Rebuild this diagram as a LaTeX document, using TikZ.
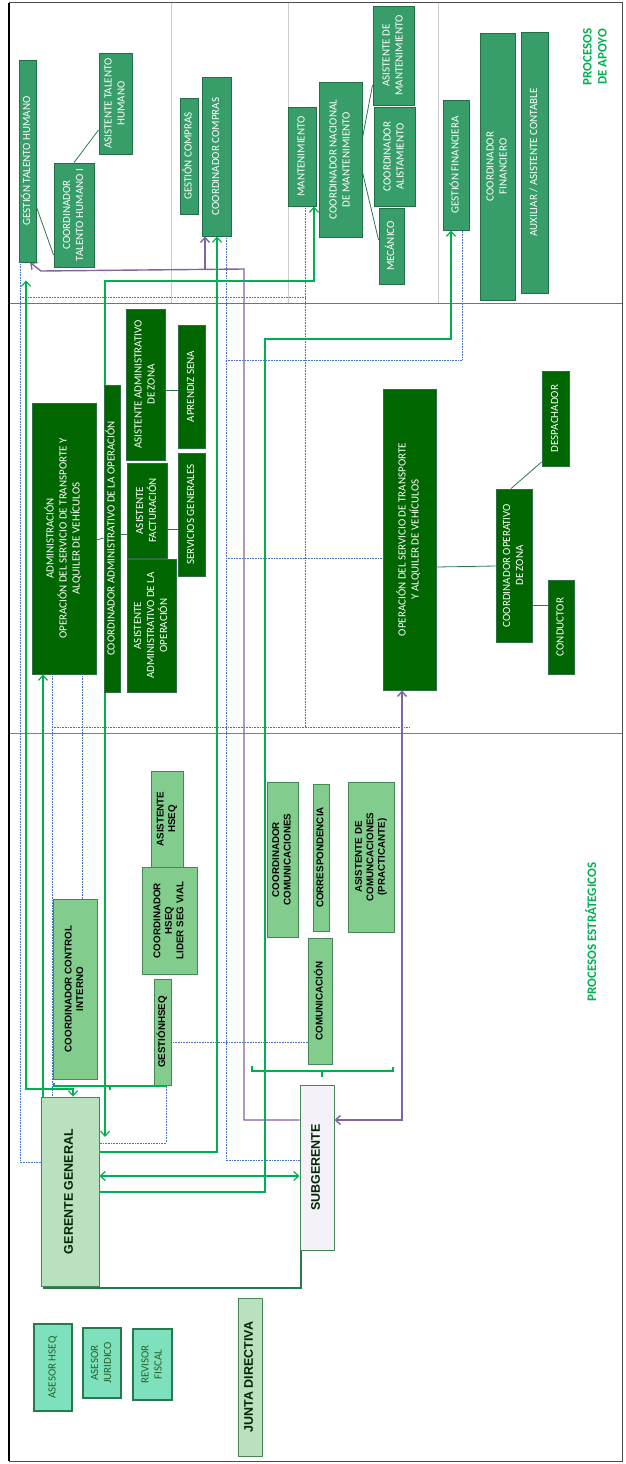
\documentclass[tikz,border=0pt]{standalone}
\usepackage{fontspec}
\setmainfont{Carlito}
\newfontfamily\arialfont{Liberation Sans}
\usetikzlibrary{arrows.meta,calc}
\pgfdeclarelayer{background}
\pgfsetlayers{background,main}

\definecolor{apoyofill}{RGB}{55,158,105}
\definecolor{apoyoline}{RGB}{35,110,70}
\definecolor{opfill}{RGB}{0,102,0}
\definecolor{opline}{RGB}{45,110,70}
\definecolor{estfill}{RGB}{130,205,142}
\definecolor{estline}{RGB}{70,135,85}
\definecolor{gerfill}{RGB}{185,225,192}
\definecolor{subfill}{RGB}{244,242,248}
\definecolor{asefill}{RGB}{125,225,190}
\definecolor{asetext}{RGB}{40,95,35}
\definecolor{verde}{RGB}{0,176,80}
\definecolor{morado}{RGB}{128,100,162}
\definecolor{azul}{RGB}{68,114,196}
\definecolor{rama}{RGB}{40,120,80}
\definecolor{oliva}{RGB}{118,146,60}

\newcommand{\vtx}[1]{\rotatebox{90}{\begin{tabular}{@{}c@{}}#1\end{tabular}}}

\tikzset{
  caja/.style={draw, line width=0.9pt, inner sep=0pt},
  apoyo/.style={caja, fill=apoyofill, draw=apoyoline, text=white, font=\fontsize{11}{13}\selectfont},
  mision/.style={caja, fill=opfill, draw=opline, text=white, font=\fontsize{11}{13}\selectfont},
  estrat/.style={caja, fill=estfill, draw=estline, text=black, font=\arialfont\bfseries\fontsize{9.8}{11.5}\selectfont},
  gerencia/.style={caja, fill=gerfill, draw=estline, text=black!85!green, font=\arialfont\bfseries\fontsize{12.5}{14}\selectfont},
  asesor/.style={caja, fill=asefill, draw=rama, line width=1.2pt, text=asetext, font=\fontsize{11}{13}\selectfont},
  titulo/.style={text=verde, font=\bfseries\fontsize{13}{15}\selectfont},
  gline/.style={draw=verde, line width=1.2pt},
  pline/.style={draw=morado, line width=1.4pt},
  dline/.style={draw=azul, line width=0.6pt, densely dotted},
  rline/.style={draw=rama, line width=0.8pt},
  >={Straight Barb[length=5pt,width=9pt]}
}

\begin{document}
\begin{tikzpicture}[x=1pt,y=-1pt] % organigrama
  \useasboundingbox (0,0) rectangle (626,1464);
  % procesos de apoyo
  \node[apoyo, minimum width=17, minimum height=202] (gth) at (27.5,161) {\vtx{GESTIÓN TALENTO HUMANO}};
  \node[apoyo, minimum width=40, minimum height=104] (cth) at (74,215) {\vtx{COORDINADOR\\TALENTO HUMANO I}};
  \node[apoyo, minimum width=33, minimum height=101] (ath) at (115.5,103.5) {\vtx{ASISTENTE TALENTO\\HUMANO}};
  \node[apoyo, minimum width=18, minimum height=116] (gcomp) at (189,156) {\vtx{GESTIÓN COMPRAS}};
  \node[apoyo, minimum width=29, minimum height=159] (ccomp) at (216.5,156.5) {\vtx{COORDINADOR COMPRAS}};
  \node[apoyo, minimum width=28, minimum height=99] (mant) at (302,156.5) {\vtx{MANTENIMIENTO}};
  \node[apoyo, minimum width=43, minimum height=155] (cnm) at (340.5,159.5) {\vtx{COORDINADOR NACIONAL\\DE MANTENIMIENTO}};
  \node[apoyo, minimum width=41, minimum height=99] (amant) at (393.5,55.5) {\vtx{ASISTENTE DE\\MANTENIMIENTO}};
  \node[apoyo, minimum width=41, minimum height=99] (calist) at (394.5,156.5) {\vtx{COORDINADOR\\ALISTAMIENTO}};
  \node[apoyo, minimum width=25, minimum height=76] (mec) at (391.5,246) {\vtx{MECÁNICO}};
  \node[apoyo, minimum width=26, minimum height=130] (gfin) at (456,165) {\vtx{GESTIÓN FINANCIERA}};
  \node[apoyo, minimum width=35, minimum height=267] (cfin) at (497.5,166.5) {\vtx{COORDINADOR\\FINANCIERO}};
  \node[apoyo, minimum width=27, minimum height=261] (aux) at (534.5,162.5) {\vtx{AUXILIAR / ASISTENTE CONTABLE}};
  \node[titulo] (tapoyo) at (596,57) {\vtx{PROCESOS\\DE APOYO}};
  % procesos misionales
  \node[mision, minimum width=64, minimum height=271] (adm) at (64,538.5) {\vtx{ADMINISTRACIÓN\\OPERACIÓN DEL SERVICIO DE TRANSPORTE Y\\ALQUILER DE VEHÍCULOS}};
  \node[mision, minimum width=16, minimum height=307] (cadm) at (112,538.5) {\vtx{COORDINADOR ADMINISTRATIVO DE LA OPERACIÓN}};
  \node[mision, minimum width=39, minimum height=151] (azona) at (145.5,384.5) {\vtx{ASISTENTE ADMINISTRATIVO\\DE ZONA}};
  \node[mision, minimum width=27, minimum height=123] (asena) at (191.5,386.5) {\vtx{APRENDIZ SENA}};
  \node[mision, minimum width=40, minimum height=95] (afact) at (147,510.5) {\vtx{ASISTENTE\\FACTURACIÓN}};
  \node[mision, minimum width=27, minimum height=123] (sgen) at (191.5,514.5) {\vtx{SERVICIOS GENERALES}};
  \node[mision, minimum width=49, minimum height=133] (aadm) at (151.5,625.5) {\vtx{ASISTENTE\\ADMINISTRATIVO DE LA\\OPERACIÓN}};
  \node[mision, minimum width=53, minimum height=301] (oper) at (409.5,539.5) {\vtx{OPERACIÓN DEL SERVICIO DE TRANSPORTE\\Y ALQUILER DE VEHÍCULOS}};
  \node[mision, minimum width=36, minimum height=153] (cop) at (514,565.5) {\vtx{COORDINADOR OPERATIVO\\DE ZONA}};
  \node[mision, minimum width=27, minimum height=95] (desp) at (555.5,418.5) {\vtx{DESPACHADOR}};
  \node[mision, minimum width=26, minimum height=94] (cond) at (561,627) {\vtx{CONDUCTOR}};
  % procesos estrategicos
  \node[estrat, minimum width=32, minimum height=96] (ahseq) at (167,819) {\vtx{ASISTENTE\\HSEQ}};
  \node[estrat, minimum width=55, minimum height=107] (chseq) at (169.5,920.5) {\vtx{COORDINADOR\\HSEQ\\LIDER SEG VIAL}};
  \node[estrat, minimum width=17, minimum height=106] (ghseq) at (162.5,1032) {\vtx{GESTIÓNHSEQ}};
  \node[estrat, minimum width=44, minimum height=180] (cci) at (75,989) {\vtx{COORDINADOR CONTROL\\INTERNO}};
  \node[estrat, minimum width=31, minimum height=155] (ccom) at (282.5,859.5) {\vtx{COORDINADOR\\COMUNICACIONES}};
  \node[estrat, minimum width=16, minimum height=147] (corr) at (321,857.5) {\vtx{CORRESPONDENCIA}};
  \node[estrat, minimum width=46, minimum height=150] (acom) at (371,857) {\vtx{ASISTENTE DE\\COMUNCACIONES\\(PRACTICANTE)}};
  \node[estrat, minimum width=24, minimum height=126] (com) at (320,1001) {\vtx{COMUNICACIÓN}};
  \node[titulo] (testrat) at (593,932) {\vtx{PROCESOS ESTRÁTEGICOS}};
  \node[gerencia, minimum width=58, minimum height=189] (ger) at (70,1191.5) {\vtx{GERENTE GENERAL}};
  \node[gerencia, fill=subfill, minimum width=34, minimum height=165] (sub) at (317,1167.5) {\vtx{SUBGERENTE}};
  \node[gerencia, minimum width=24, minimum height=158] (junta) at (250,1377) {\vtx{JUNTA DIRECTIVA}};
  \node[asesor, minimum width=38, minimum height=87] (ahs) at (53,1367.5) {\vtx{ASESOR HSEQ}};
  \node[asesor, minimum width=38, minimum height=70] (ajur) at (102,1363) {\vtx{ASESOR\\JURIDICO}};
  \node[asesor, minimum width=39, minimum height=71] (rfis) at (152.5,1364.5) {\vtx{REVISOR\\FISCAL}};

  \coordinate (gtip) at (105,1137);
  \begin{pgfonlayer}{background}
    % marco y franjas
    \draw[black!70, line width=1pt] (9,3) rectangle (622,1461);
    \draw[black, line width=2.5pt] (9,3) -- (9,1461);
    \draw[black!20, line width=0.8pt] (171,3) -- (171,303) (288,3) -- (288,303) (438,3) -- (438,303);
    \draw[morado, line width=1pt] (10,303) -- (622,303);
    \draw[oliva, line width=1pt] (10,733) -- (622,733);
    % lineas punteadas
    \draw[dline] (gth.south -| 20,0) |- (ger.west |- 0,1162);
    \draw[dline] (20,297) -- (305,297);
    \draw[dline] (mant.south -| 305,0) -- (305,727);
    \draw[dline] (adm.south -| 52,0) -- (ger.north -| 52,0);
    \draw[dline] (52,727) -- (409,727);
    \draw[dline] (adm.south -| 82,0) -- (cci.north -| 82,0);
    \draw[dline] (ccomp.south -| 226,0) |- (sub.west |- 0,1160);
    \draw[dline] (226,360) -| (gfin.south -| 462,0);
    \draw[dline] (226,558) -- (oper.west |- 0,558);
    \draw[dline] (ghseq.east |- 0,1042) -- (com.west |- 0,1042);
    \draw[dline] (ghseq.south -| 166,0) |- (ger.east |- 0,1143);
    % ramas
    \draw[rline] (ath.west |- 0,130) -- (cth.north -| 74,0);
    \draw[rline] (gth.east |- 0,207) -- (cth.west |- 0,255);
    \draw[rline] (cnm.east |- 0,138) -- (amant.west |- 0,85);
    \draw[rline] (cnm.east |- 0,172) -- (mec.west |- 0,240);
    \draw[rline] (adm.east |- 0,540) -- (cadm.west |- 0,538);
    \draw[rline] (cadm.east |- 0,534) -- (afact.west |- 0,534);
    \draw[rline] (azona.east |- 0,390) -- (asena.west |- 0,390);
    \draw[rline] (afact.east |- 0,529) -- (sgen.west |- 0,529);
    \draw[rline] (oper.east |- 0,567) -- (cop.west |- 0,566);
    \draw[rline] (cop.north -| 511,0) -- (desp.west |- 0,462);
    \draw[rline] (cop.east |- 0,605) -- (cond.west |- 0,605);
    % lineas verdes
    \draw[gline, <->] (ger.north -| 73,0) |- (26,1089) -- ($(gth.south -| 26,0)+(0,18)$);
    \draw[gline, ->] (ger.north -| 43,0) -- (adm.south -| 43,0);
    \draw[gline, <->] (gtip) -- (105,281) -| (mant.south -| 314,0);
    \draw[gline, ->] (ger.east |- 0,1152) -| (ccomp.south -| 217,0);
    \draw[gline, ->] (ger.east |- 0,1192) -| (265,339) -| (gfin.south -| 451,0);
    \draw[gline, <->] (ger.east |- 0,1176) -- (sub.west |- 0,1176);
    \draw[gline, line width=1.1pt] (54,1083) |- (166,1086) -- (166,1083) (110,1086) -- (110,1090);
    \draw[gline, line width=1.1pt] (252,1066) |- (393,1071) -- (393,1067) (322,1071) -- (322,1077);
    \draw[rama, line width=1.2pt] (44,1247) -- (44,1288) -| (sub.south -| 301,0);
    % lineas moradas
    \draw[pline, <->] (sub.east |- 0,1120) -| (oper.south -| 402,0);
    \draw[pline, ->] (sub.west |- 0,1120) -| (244,269) -- (41,271) -- (gth.south -| 30,0);
    \draw[pline, ->] (205,269) -- (ccomp.south -| 205,0);
  \end{pgfonlayer}
\end{tikzpicture}
\end{document}
